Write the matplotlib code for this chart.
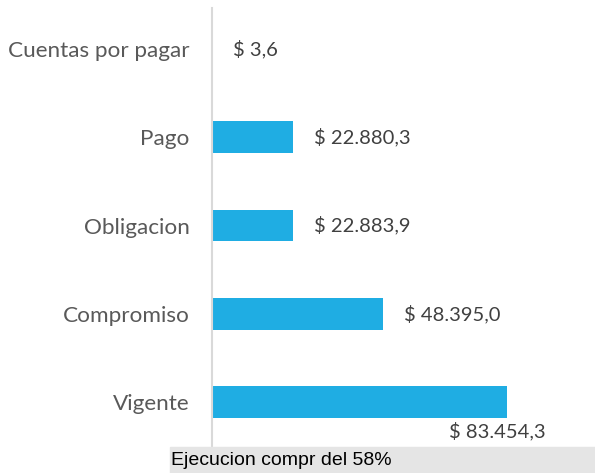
import matplotlib.pyplot as plt
from matplotlib.patches import Rectangle

# datos (millones)
categorias = ['Vigente', 'Compromiso', 'Obligacion', 'Pago', 'Cuentas por pagar']
valores = [83454.3, 48395.0, 22883.9, 22880.3, 3.6]
etiquetas = ['$ 83.454,3', '$ 48.395,0', '$ 22.883,9', '$ 22.880,3', '$ 3,6']
nota = 'Ejecucion compr del 58%'

W, H = 595, 473
fig = plt.figure(figsize=(W / 100, H / 100), dpi=100)
ax = fig.add_axes([212 / W, (H - 447) / H, (W - 212) / W, 439 / H])

pos = list(range(len(categorias)))
ax.barh(pos, valores, height=0.36, color='#1FADE3')
ax.set_xlim(0, 83454.3 * 383 / 295)
ax.set_ylim(-0.51, 4.465)

ax.set_yticks(pos)
ax.set_yticklabels(categorias, fontsize=16.2, color='#595959', family='Lato')
ax.tick_params(axis='y', length=0, pad=16)
ax.set_xticks([])
for s in ['top', 'right', 'bottom']:
    ax.spines[s].set_visible(False)
ax.spines['left'].set_color('#d9d9d9')
ax.spines['left'].set_linewidth(1.5)

for i, (v, t) in enumerate(zip(valores, etiquetas)):
    if i == 0:
        # la etiqueta de la barra mas larga va debajo
        ax.annotate(t, (v, i), xytext=(28, -21), textcoords='offset points',
                    ha='right', va='center', fontsize=14.5, color='#404040', family='Lato')
    else:
        ax.annotate(t, (v, i), xytext=(15, 0), textcoords='offset points',
                    ha='left', va='center', fontsize=14.5, color='#404040', family='Lato')

# franja gris inferior con el texto
fig.patches.append(Rectangle((170 / W, 0), (W - 170) / W, 26 / H,
                             transform=fig.transFigure, color='#e5e5e5', zorder=0))
fig.text(171 / W, 13 / H, nota, ha='left', va='center', fontsize=14,
         family='Liberation Sans', color='black')

fig.savefig('out.png', dpi=100)
